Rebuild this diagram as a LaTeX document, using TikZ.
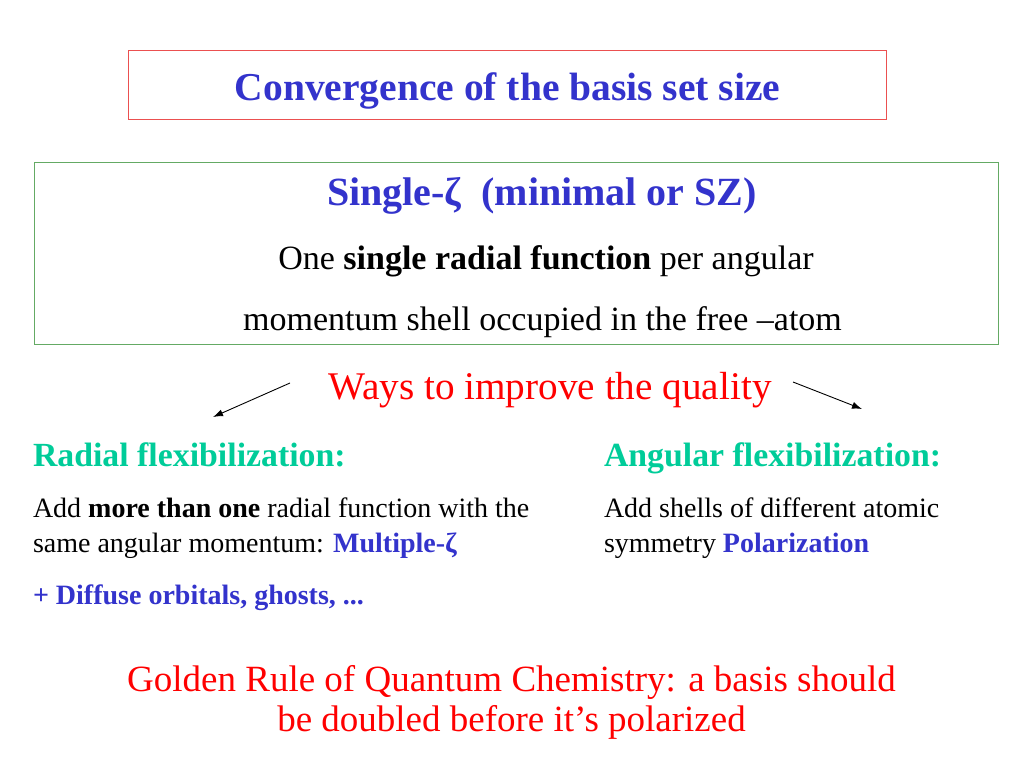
\documentclass[tikz,border=0pt]{standalone}
\usepackage{fontspec}
\setmainfont{Liberation Serif}
\usepackage{xcolor}
\usetikzlibrary{positioning}
\usetikzlibrary{arrows.meta}
\definecolor{titleblue}{RGB}{51,51,204}
\definecolor{waysred}{RGB}{255,0,0}
\definecolor{flexgreen}{RGB}{0,204,153}
\definecolor{boxred}{RGB}{235,80,80}
\definecolor{boxgreen}{RGB}{100,170,100}
\tikzset{
  txt/.style={inner sep=0pt, outer sep=0pt},
  heading/.style={txt, text=titleblue, font=\fontsize{39.5}{44}\selectfont\bfseries},
  body/.style={txt, font=\fontsize{34}{40}\selectfont},
  small/.style={txt, font=\fontsize{28}{35}\selectfont, align=left},
  flex/.style={txt, text=flexgreen, font=\fontsize{33.8}{40}\selectfont\bfseries},
  rule/.style={txt, text=waysred, font=\fontsize{37}{40}\selectfont, align=center},
  pointer/.style={-{Latex[length=10pt,width=7pt]}, line width=0.9pt}
}
\begin{document}
\begin{tikzpicture}[x=1pt,y=-1pt]
\useasboundingbox[fill=white] (0,0) rectangle (1024,768);
%the two frames
\draw[boxred, line width=1pt] (128,51) rectangle (886,119);
\draw[boxgreen, line width=1pt] (34,162) rectangle (998,344);
\node[heading, anchor=base] (title) at (507.5,100) {Convergence of the basis set size};
\node[heading, font=\fontsize{40}{44}\selectfont\bfseries, anchor=base] (sz) at (542,205) {Single-ζ\ \ (minimal or SZ)};
\node[body, anchor=base] (one) at (546,269) {One \textbf{single radial function} per angular};
\node[body, anchor=base] (mom) at (542.5,330) {momentum shell occupied in the free –atom};
\node[txt, text=waysred, font=\fontsize{39.2}{44}\selectfont, anchor=base] (ways) at (550,399) {Ways to improve the quality};
%arrows
\coordinate (lstart) at (290,383);
\coordinate (lend) at (213,417);
\coordinate (rstart) at (793,382);
\coordinate (rend) at (862,409);
\draw[pointer] (lstart) -- (lend);
\draw[pointer] (rstart) -- (rend);
\node[flex, anchor=base west] (radial) at (33,466) {Radial flexibilization:};
\node[flex, anchor=base west] (angular) at (604,466) {Angular flexibilization:};
%base of a two-line node is its last line
\node[small, anchor=base west] (radtxt) at (33,552) {Add \textbf{more than one} radial function with the\\same angular momentum: \textcolor{titleblue}{\textbf{Multiple-ζ}}};
\node[small, anchor=base west] (diffuse) at (33,604) {\textcolor{titleblue}{\textbf{+ Diffuse orbitals, ghosts, ...}}};
\node[small, anchor=base west] (angtxt) at (604,552) {Add shells of different atomic\\symmetry \textcolor{titleblue}{\textbf{Polarization}}};
\node[rule, anchor=base] (golden) at (511.5,731) {Golden Rule of Quantum Chemistry: a basis should\\be doubled before it’s polarized};
\end{tikzpicture}
\end{document}
